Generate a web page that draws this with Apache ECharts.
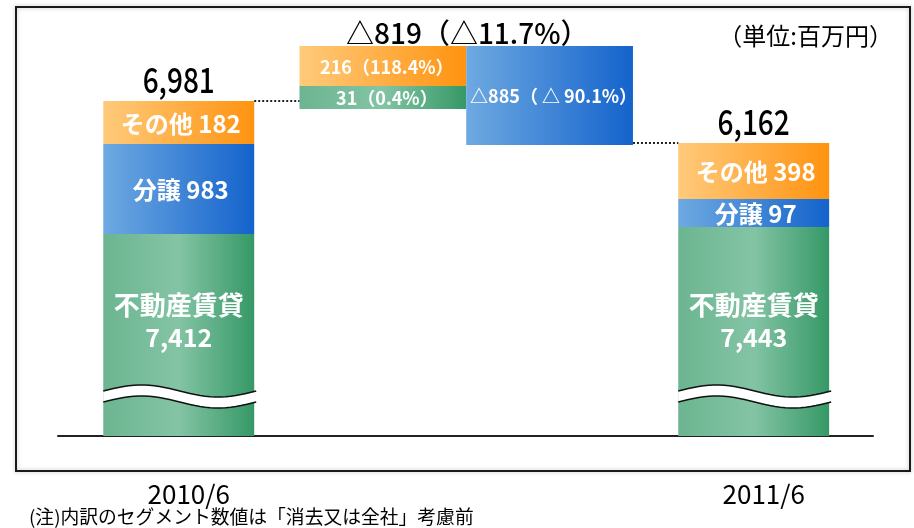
<!DOCTYPE html>
<html>
<head>
<meta charset="utf-8">
<title>セグメント別売上推移</title>
<script src="https://cdn.jsdelivr.net/npm/echarts@6/dist/echarts.min.js"></script>
<style>
  html, body { margin: 0; padding: 0; background: #fff; }
  #chart { width: 914px; height: 528px; }
</style>
</head>
<body>
<div id="chart"></div>
<script>
// ---- data ----
const periods = ['2010/6', '2011/6'];
const segmentNames = ['不動産賃貸', '分譲', 'その他'];
const values2010 = [7412, 983, 182];
const values2011 = [7443, 97, 398];
const totals = [6981, 6162];
// bar lengths as drawn (not to scale, axis broken inside 不動産賃貸)
const drawn2010 = [202, 90, 43];
const drawn2011 = [209, 28, 56];

// bridge between the two periods
const changeNames = ['不動産賃貸', 'その他', '分譲'];
const changeValues = [31, 216, -885];
const changeRates = [0.4, 118.4, -90.1];
const changeColumn = [0, 0, 1];
const changeFrom = [327, 350, 291];
const changeTo = [350, 390, 390];
const totalChange = -819;
const totalRate = -11.7;

// ---- helpers ----
const JP = '"Noto Sans CJK JP", "Noto Sans CJK SC", sans-serif';

const colorStops = {
  '不動産賃貸': [[0, '#6cb591'], [0.5, '#83c4a5'], [1, '#369866']],
  '分譲': [[0, '#6ea9e1'], [1, '#1463cc']],
  'その他': [[0, '#ffca7b'], [1, '#ff9310']]
};
function fillOf(name) {
  return new echarts.graphic.LinearGradient(0, 0, 1, 0,
    colorStops[name].map(s => ({ offset: s[0], color: s[1] })));
}
const fmt = v => v.toLocaleString('en-US');
const delta = v => (v < 0 ? '△' : '') + fmt(Math.abs(v));
const sum = arr => arr.reduce((a, b) => a + b, 0);

const periodX = [0, 2];
const changeX = 1;
const periodHalf = 0.2625;
const changeWidth = 0.58;

const periodData = [];
[drawn2010, drawn2011].forEach((drawn, p) => {
  let base = 0;
  drawn.forEach((h, i) => {
    periodData.push([periodX[p], base, base + h, p, i]);
    base += h;
  });
});

const changeData = changeNames.map((n, k) => [changeColumn[k], changeFrom[k], changeTo[k], k]);

const connectorData = [
  [periodX[0] + periodHalf, changeX - changeWidth, sum(drawn2010)],
  [changeX + changeWidth, periodX[1] - periodHalf, sum(drawn2011)]
];

function renderPeriod(params, api) {
  const x = api.value(0), y0 = api.value(1), y1 = api.value(2);
  const p = api.value(3), i = api.value(4);
  const a = api.coord([x - periodHalf, y1]);
  const b = api.coord([x + periodHalf, y0]);
  const w = b[0] - a[0];
  const cx = (a[0] + b[0]) / 2;
  const name = segmentNames[i];
  const vals = p === 0 ? values2010 : values2011;
  const children = [{
    type: 'rect',
    shape: { x: a[0], y: a[1], width: w, height: b[1] - a[1] },
    style: { fill: fillOf(name) }
  }];
  if (i === 0) {
    // wavy break mark
    const yc = api.coord([x, y0 + 45])[1];
    const up = [], lo = [];
    for (let s = 0; s <= 30; s++) {
      const t = s / 30;
      const px = a[0] + t * (w + 2);
      const py = yc - 6 * Math.sin(2 * Math.PI * t);
      up.push([px, py]);
      lo.push([px, py + 11]);
    }
    children.push({ type: 'polygon', shape: { points: up.concat(lo.slice().reverse()) }, style: { fill: '#fff' } });
    children.push({ type: 'polyline', shape: { points: up }, style: { stroke: '#111', lineWidth: 1.6, fill: null } });
    children.push({ type: 'polyline', shape: { points: lo }, style: { stroke: '#111', lineWidth: 1.6, fill: null } });
    children.push({
      type: 'text',
      x: cx, y: api.coord([x, y0 + 115])[1],
      style: {
        text: '{a|' + name + '}\n{b|' + fmt(vals[i]) + '}',
        align: 'center', verticalAlign: 'middle',
        rich: {
          a: { fontSize: 26, fontWeight: 'bold', fontFamily: JP, fill: '#fff', lineHeight: 32, align: 'center' },
          b: { fontSize: 25, fontWeight: 'bold', fontFamily: JP, fill: '#fff', lineHeight: 32, align: 'center' }
        }
      }
    });
  } else {
    children.push({
      type: 'text',
      x: cx + 2, y: (a[1] + b[1]) / 2 + 1,
      style: {
        text: name + ' ' + fmt(vals[i]),
        font: 'bold 24px ' + JP, fill: '#fff',
        align: 'center', verticalAlign: 'middle'
      }
    });
  }
  if (i === segmentNames.length - 1) {
    children.push({
      type: 'text',
      x: cx, y: a[1] - 21, scaleX: 0.8,
      style: {
        text: fmt(totals[p]), font: '500 35px ' + JP, fill: '#000',
        align: 'center', verticalAlign: 'middle'
      }
    });
  }
  return { type: 'group', children };
}

function renderChange(params, api) {
  const col = api.value(0), k = api.value(3);
  const x0 = col === 0 ? changeX - changeWidth : changeX;
  const a = api.coord([x0, api.value(2)]);
  const b = api.coord([x0 + changeWidth, api.value(1)]);
  const rate = changeRates[k];
  const text = delta(changeValues[k]) + (rate < 0 ? '（ △ ' + (-rate) + '%）' : '（' + rate + '%）');
  return {
    type: 'group',
    children: [
      {
        type: 'rect',
        shape: { x: a[0], y: a[1], width: b[0] - a[0], height: b[1] - a[1] },
        style: { fill: fillOf(changeNames[k]) }
      },
      {
        type: 'text',
        x: (a[0] + b[0]) / 2 + 4, y: (a[1] + b[1]) / 2 + 1,
        style: {
          text, font: 'bold 18px ' + JP, fill: '#fff',
          align: 'center', verticalAlign: 'middle'
        }
      }
    ]
  };
}

function renderConnector(params, api) {
  const a = api.coord([api.value(0), api.value(2)]);
  const b = api.coord([api.value(1), api.value(2)]);
  return {
    type: 'line',
    shape: { x1: a[0], y1: a[1], x2: b[0], y2: b[1] },
    style: { stroke: '#222', lineWidth: 2, lineDash: [2, 2] }
  };
}

function renderTotalChange(params, api) {
  const c = api.coord([api.value(0), api.value(1)]);
  return {
    type: 'text',
    x: c[0] + 1, y: c[1] - 13,
    style: {
      text: delta(totalChange) + '（' + delta(totalRate) + '%）',
      font: '500 28px ' + JP, fill: '#000',
      align: 'center', verticalAlign: 'middle'
    }
  };
}

const chart = echarts.init(document.getElementById('chart'));
chart.setOption({
  animation: false,
  backgroundColor: '#fff',
  title: [
    {
      text: '（単位:百万円）', right: 16, top: 19, padding: 5,
      textStyle: { fontSize: 24, fontWeight: 'normal', color: '#000', fontFamily: JP }
    },
    {
      text: '(注)内訳のセグメント数値は「消去又は全社」考慮前', left: 24, top: 502, padding: 5,
      textStyle: { fontSize: 18.8, fontWeight: 'normal', color: '#000', fontFamily: JP }
    }
  ],
  graphic: [{
    type: 'rect', z: -10,
    shape: { x: 16, y: 7, width: 894, height: 464 },
    style: { fill: null, stroke: '#1a1a1a', lineWidth: 2, shadowBlur: 4, shadowColor: 'rgba(0,0,0,0.25)' }
  }],
  grid: { left: 58, right: 41, top: 36, bottom: 92, outerBoundsMode: 'none' },
  xAxis: {
    type: 'value', min: -0.42, max: 2.415,
    splitLine: { show: false },
    axisTick: { show: false },
    axisLine: { show: true, onZero: false, lineStyle: { color: '#222', width: 2 } },
    axisLabel: {
      customValues: periodX,
      formatter: v => periods[periodX.indexOf(v)] || '',
      margin: 45, padding: [0, 0, 0, 20],
      color: '#000', fontSize: 26, fontFamily: JP
    }
  },
  yAxis: { type: 'value', min: 0, max: 400, show: false },
  series: [
    { type: 'custom', name: '期末', renderItem: renderPeriod, data: periodData, z: 2 },
    { type: 'custom', name: '増減', renderItem: renderChange, data: changeData, z: 2 },
    { type: 'custom', name: '補助線', renderItem: renderConnector, data: connectorData, z: 3 },
    { type: 'custom', name: '合計増減', renderItem: renderTotalChange, data: [[changeX, Math.max(...changeTo)]], z: 3 }
  ]
});
</script>
</body>
</html>
